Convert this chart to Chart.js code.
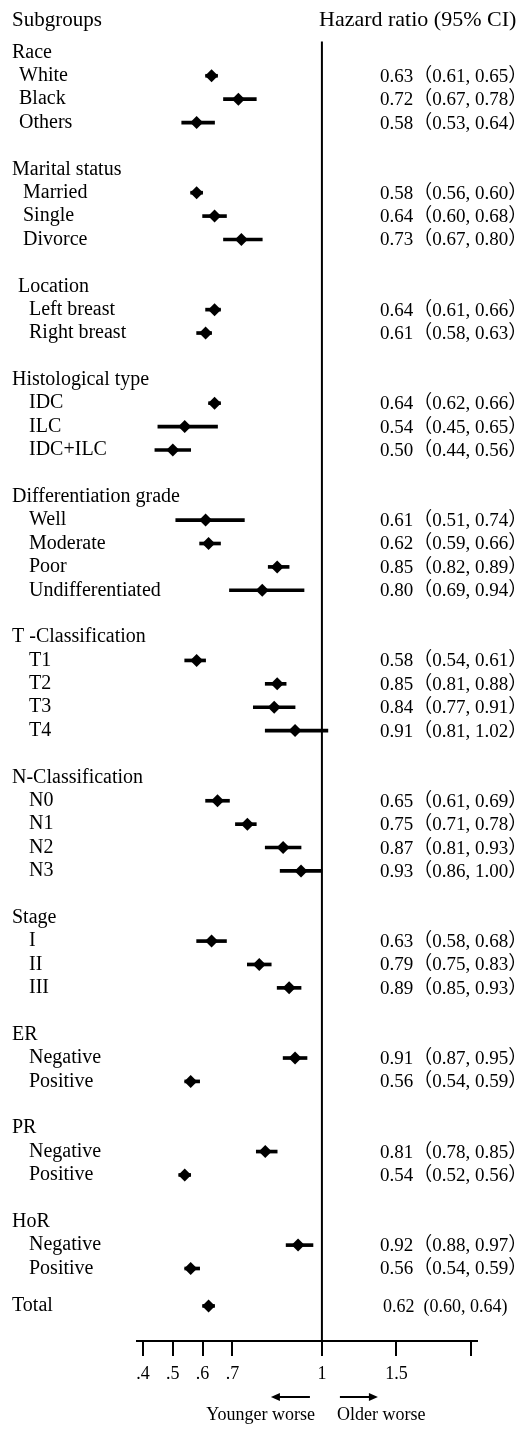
<!DOCTYPE html>
<html>
<head>
<meta charset="utf-8">
<title>Subgroup hazard ratios</title>
<script src="https://cdn.jsdelivr.net/npm/chart.js@4.4.1/dist/chart.umd.min.js"></script>
<style>
  html, body { margin: 0; padding: 0; background: #fff; }
  #wrap { width: 520px; height: 1429px; position: relative; }
</style>
</head>
<body>
<div id="wrap"><canvas id="forest"></canvas></div>
<script>
const groupNames = ['Race', 'Marital status', 'Location', 'Histological type', 'Differentiation grade',
  'T -Classification', 'N-Classification', 'Stage', 'ER', 'PR', 'HoR'];
const groupItems = [
  ['White', 'Black', 'Others'],
  ['Married', 'Single', 'Divorce'],
  ['Left breast', 'Right breast'],
  ['IDC', 'ILC', 'IDC+ILC'],
  ['Well', 'Moderate', 'Poor', 'Undifferentiated'],
  ['T1', 'T2', 'T3', 'T4'],
  ['N0', 'N1', 'N2', 'N3'],
  ['I', 'II', 'III'],
  ['Negative', 'Positive'],
  ['Negative', 'Positive'],
  ['Negative', 'Positive']
];
const hrValues = [
  [0.63, 0.72, 0.58],
  [0.58, 0.64, 0.73],
  [0.64, 0.61],
  [0.64, 0.54, 0.50],
  [0.61, 0.62, 0.85, 0.80],
  [0.58, 0.85, 0.84, 0.91],
  [0.65, 0.75, 0.87, 0.93],
  [0.63, 0.79, 0.89],
  [0.91, 0.56],
  [0.81, 0.54],
  [0.92, 0.56]
];
const ciLower = [
  [0.61, 0.67, 0.53],
  [0.56, 0.60, 0.67],
  [0.61, 0.58],
  [0.62, 0.45, 0.44],
  [0.51, 0.59, 0.82, 0.69],
  [0.54, 0.81, 0.77, 0.81],
  [0.61, 0.71, 0.81, 0.86],
  [0.58, 0.75, 0.85],
  [0.87, 0.54],
  [0.78, 0.52],
  [0.88, 0.54]
];
const ciUpper = [
  [0.65, 0.78, 0.64],
  [0.60, 0.68, 0.80],
  [0.66, 0.63],
  [0.66, 0.65, 0.56],
  [0.74, 0.66, 0.89, 0.94],
  [0.61, 0.88, 0.91, 1.02],
  [0.69, 0.78, 0.93, 1.00],
  [0.68, 0.83, 0.93],
  [0.95, 0.59],
  [0.85, 0.56],
  [0.97, 0.59]
];
const totalLabel = 'Total';
const totalHR = 0.62;
const totalLower = 0.60;
const totalUpper = 0.64;

const xTickValues = [0.4, 0.5, 0.6, 0.7, 1, 1.25, 1.5];
const xTickLabels = ['.4', '.5', '.6', '.7', '1', '1.5', ''];

const serif = "'Liberation Serif', 'Times New Roman', serif";
const mixed = "'Liberation Serif', 'Noto Sans CJK SC', serif";

// one row per header / subgroup, with an empty row between groups
let rows = [];
let r = 0;
let lastRow = 0;
groupNames.forEach((g, gi) => {
  rows.push({ label: g, row: r, header: true, group: gi });
  r++;
  groupItems[gi].forEach((name, ii) => {
    rows.push({
      label: name, row: r, header: false, group: gi,
      hr: hrValues[gi][ii], lo: ciLower[gi][ii], hi: ciUpper[gi][ii]
    });
    lastRow = r;
    r++;
  });
  r++;
});
const totalRow = lastRow + 1.6;

const items = rows.filter(d => !d.header);
const ciData = items.map(d => ({ x: [d.lo, d.hi], y: d.row }));
ciData.push({ x: [totalLower, totalUpper], y: totalRow });
const hrData = items.map(d => ({ x: d.hr, y: d.row }));
hrData.push({ x: totalHR, y: totalRow });

const yMin = -1;
const yMax = 55.1;
const refLine = [{ x: 1, y: -0.47 }, { x: 1, y: yMax }];

function fmt(v) { return v.toFixed(2); }

const forestText = {
  id: 'forestText',
  afterDraw(chart) {
    const { ctx } = chart;
    const x = chart.scales.x;
    const y = chart.scales.y;
    ctx.save();
    ctx.fillStyle = '#000';
    ctx.textBaseline = 'middle';
    ctx.textAlign = 'left';

    ctx.font = '21px ' + serif;
    ctx.fillText('Subgroups', 12, 20);
    ctx.font = '22px ' + serif;
    ctx.fillText('Hazard ratio (95% CI)', 319, 20);

    rows.forEach(d => {
      const py = y.getPixelForValue(d.row);
      let indent;
      if (d.header) {
        indent = d.group === 2 ? 18 : 12;
      } else {
        indent = d.group === 0 ? 19 : d.group === 1 ? 23 : 29;
      }
      ctx.font = '20px ' + serif;
      ctx.fillText(d.label, indent, py);
      if (!d.header) {
        ctx.font = '19px ' + mixed;
        ctx.fillText(fmt(d.hr) + '（' + fmt(d.lo) + ', ' + fmt(d.hi) + '）', 380, py + 1);
      }
    });

    const ty = y.getPixelForValue(totalRow);
    ctx.font = '20px ' + serif;
    ctx.fillText(totalLabel, 12, ty);
    ctx.font = '18px ' + serif;
    ctx.fillText(fmt(totalHR) + '  (' + fmt(totalLower) + ', ' + fmt(totalUpper) + ')', 383, ty + 1);

    // direction arrows under the axis
    const p1 = x.getPixelForValue(1);
    const ay = 1397;
    ctx.strokeStyle = '#000';
    ctx.lineWidth = 2;
    ctx.beginPath();
    ctx.moveTo(p1 - 12, ay);
    ctx.lineTo(p1 - 46, ay);
    ctx.moveTo(p1 + 18, ay);
    ctx.lineTo(p1 + 51, ay);
    ctx.stroke();
    ctx.beginPath();
    ctx.moveTo(p1 - 51, ay);
    ctx.lineTo(p1 - 42, ay - 4);
    ctx.lineTo(p1 - 42, ay + 4);
    ctx.closePath();
    ctx.moveTo(p1 + 56, ay);
    ctx.lineTo(p1 + 47, ay - 4);
    ctx.lineTo(p1 + 47, ay + 4);
    ctx.closePath();
    ctx.fill();

    ctx.font = '18px ' + serif;
    ctx.textAlign = 'right';
    ctx.fillText('Younger worse', p1 - 7, 1415);
    ctx.textAlign = 'left';
    ctx.fillText('Older worse', p1 + 15, 1415);
    ctx.restore();
  }
};

const ctx = document.getElementById('forest').getContext('2d');
new Chart(ctx, {
  type: 'bar',
  data: {
    datasets: [
      {
        type: 'bar',
        indexAxis: 'y',
        data: ciData,
        backgroundColor: '#000',
        borderWidth: 0,
        barThickness: 3,
        order: 2
      },
      {
        type: 'scatter',
        data: hrData,
        pointStyle: 'rectRot',
        pointRadius: 6.5,
        backgroundColor: '#000',
        borderColor: '#000',
        borderWidth: 0,
        order: 1
      },
      {
        type: 'line',
        data: refLine,
        borderColor: '#000',
        borderWidth: 2,
        pointRadius: 0,
        fill: false,
        order: 3
      }
    ]
  },
  options: {
    responsive: true,
    maintainAspectRatio: false,
    animation: false,
    layout: { padding: { left: 137, right: 43, top: 29, bottom: 0 } },
    plugins: {
      legend: { display: false },
      tooltip: { enabled: false }
    },
    scales: {
      x: {
        type: 'linear',
        min: 0.38,
        max: 1.52,
        offset: false,
        beginAtZero: false,
        afterBuildTicks: scale => {
          scale.ticks = xTickValues.map(v => ({ value: v }));
        },
        afterFit: scale => { scale.height = 88; },
        ticks: {
          autoSkip: false,
          maxRotation: 0,
          padding: 7,
          color: '#000',
          font: { family: serif, size: 18 },
          callback: (value, index) => xTickLabels[index]
        },
        grid: {
          offset: false,
          drawOnChartArea: false,
          drawTicks: true,
          tickLength: 15,
          color: '#000',
          lineWidth: 2
        },
        border: { display: true, color: '#000', width: 2 }
      },
      y: {
        type: 'linear',
        reverse: true,
        min: yMin,
        max: yMax,
        offset: false,
        display: false
      }
    }
  },
  plugins: [forestText]
});
</script>
</body>
</html>
